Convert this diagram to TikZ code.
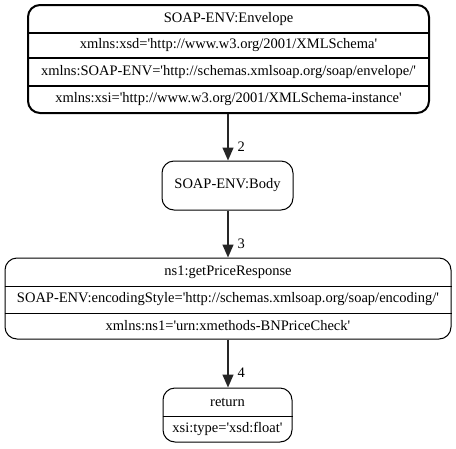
\documentclass[tikz,border=0pt]{standalone}
\usepackage{fontspec}
\setmainfont{Liberation Serif}
\usetikzlibrary{arrows.meta}
\newcommand\sq{\textquotesingle}
\begin{document}
\begin{tikzpicture}[x=1pt,y=-1pt,
  font=\fontsize{14.5}{16}\selectfont,
  box/.style={draw,rounded corners=12pt,inner sep=0pt,minimum width=#1},
  row/.style={inner sep=0pt,anchor=center},
  sep/.style={line width=#1},
  edge/.style={line width=1.4pt,draw=black!85,-{Triangle[length=13pt,width=11pt]}},
  elabel/.style={anchor=west,inner sep=0pt}]
\useasboundingbox (0,0) rectangle (456,448);
% Envelope
\node[box=401pt,minimum height=108pt,line width=2pt] (env) at (228.5,59) {};
\node[row] (env1) at (228.5,19) {SOAP-ENV:Envelope};
\node[row] (env2) at (228.5,45.5) {xmlns:xsd=\sq http://www.w3.org/2001/XMLSchema\sq};
\node[row] (env3) at (228.5,72) {xmlns:SOAP-ENV=\sq http://schemas.xmlsoap.org/soap/envelope/\sq};
\node[row] (env4) at (228.5,99.5) {xmlns:xsi=\sq http://www.w3.org/2001/XMLSchema-instance\sq};
\draw[sep=2pt] (env.west |- 0,33) -- (env.east |- 0,33);
\draw[sep=2pt] (env.west |- 0,58) -- (env.east |- 0,58);
\draw[sep=2pt] (env.west |- 0,86) -- (env.east |- 0,86);
% Body
\node[box=131pt,minimum height=49pt,line width=1pt] (body) at (227.5,185.5) {SOAP-ENV:Body};
% getPriceResponse
\node[box=446pt,minimum height=81pt,line width=1pt] (gpr) at (228,298.5) {};
\node[row] (gpr1) at (228,272) {ns1:getPriceResponse};
\node[row] (gpr2) at (228,299.5) {SOAP-ENV:encodingStyle=\sq http://schemas.xmlsoap.org/soap/encoding/\sq};
\node[row] (gpr3) at (228,326) {xmlns:ns1=\sq urn:xmethods-BNPriceCheck\sq};
\draw[sep=1pt] (gpr.west |- 0,286) -- (gpr.east |- 0,286);
\draw[sep=1pt] (gpr.west |- 0,313) -- (gpr.east |- 0,313);
% return
\node[box=129pt,minimum height=54pt,line width=1pt] (ret) at (227.5,415) {};
\node[row] (ret1) at (227.5,402) {return};
\node[row] (ret2) at (227.5,429) {xsi:type=\sq xsd:float\sq};
\draw[sep=1pt] (ret.west |- 0,416) -- (ret.east |- 0,416);
% edges
\draw[edge] (env.south -| 228,0) -- (body.north -| 228,0) node[elabel,pos=0.7,xshift=9pt] {2};
\draw[edge] (body.south -| 228,0) -- (gpr.north -| 228,0) node[elabel,pos=0.7,xshift=9pt] {3};
\draw[edge] (gpr.south -| 228,0) -- (ret.north -| 228,0) node[elabel,pos=0.7,xshift=9pt] {4};
\end{tikzpicture}
\end{document}
